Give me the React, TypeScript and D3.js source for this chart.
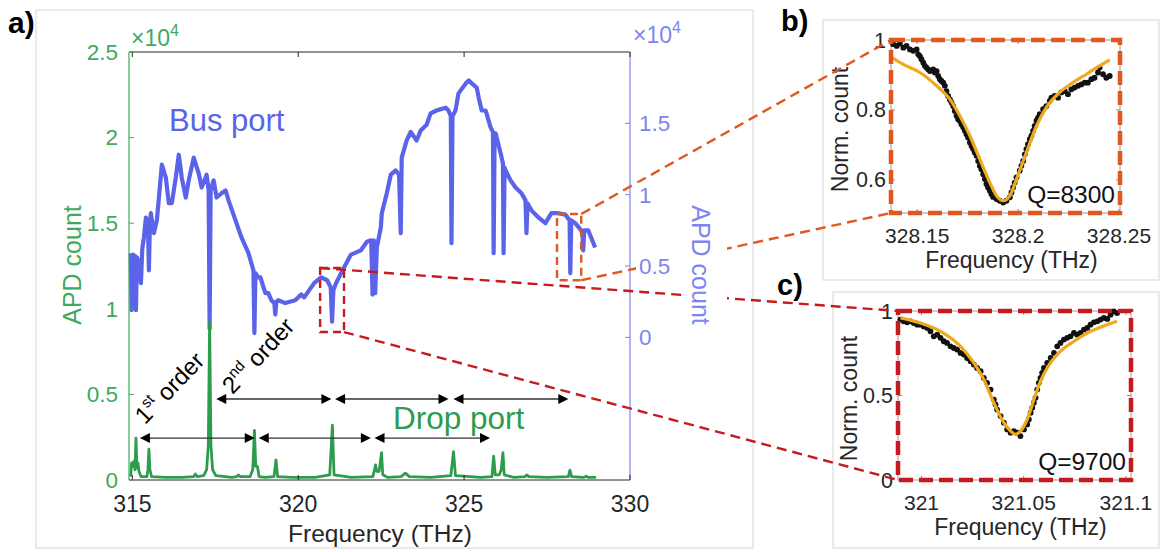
import React from "react";
import * as d3 from "d3";

type P = [number, number];

// ---------- Panel a data (frequency THz, counts x1e4) ----------
// Bus port (right axis units, x1e4)
const busPort: P[] = [
  [314.95, 0.59], [314.98, 0.19], [315.02, 0.58], [315.08, 0.57], [315.11, 0.19], [315.14, 0.56],
  [315.22, 0.50], [315.26, 0.38], [315.30, 0.62], [315.35, 0.70], [315.41, 0.84], [315.47, 0.80],
  [315.50, 0.47], [315.53, 0.80], [315.56, 0.87], [315.65, 0.73], [315.74, 0.82], [315.89, 1.21],
  [316.01, 1.12], [316.10, 0.94], [316.19, 0.94], [316.31, 1.12], [316.40, 1.28], [316.49, 1.12],
  [316.61, 0.98], [316.70, 1.10], [316.85, 1.26], [317.00, 1.15], [317.09, 1.05], [317.24, 1.14],
  [317.30, 1.03], [317.33, 0.06], [317.36, 1.03], [317.45, 1.10], [317.54, 0.98], [317.69, 1.01],
  [317.81, 1.03], [317.90, 0.96], [318.11, 0.82], [318.29, 0.70], [318.50, 0.59], [318.65, 0.47],
  [318.68, 0.03], [318.71, 0.45], [318.80, 0.42], [318.86, 0.42], [319.01, 0.31], [319.10, 0.31],
  [319.19, 0.26], [319.28, 0.24], [319.31, 0.16], [319.34, 0.25], [319.40, 0.26], [319.61, 0.24],
  [319.91, 0.26], [320.09, 0.30], [320.18, 0.28], [320.48, 0.38], [320.69, 0.42], [320.87, 0.40],
  [320.98, 0.35], [321.02, 0.11], [321.06, 0.33], [321.14, 0.38], [321.38, 0.49], [321.59, 0.58],
  [321.89, 0.61], [322.07, 0.67], [322.20, 0.68], [322.24, 0.30], [322.28, 0.68], [322.32, 0.31],
  [322.37, 0.63], [322.49, 0.77], [322.52, 0.87], [322.67, 1.01], [322.79, 1.14], [322.94, 1.17],
  [323.04, 1.14], [323.09, 0.73], [323.12, 1.26], [323.27, 1.38], [323.39, 1.44], [323.57, 1.38],
  [323.69, 1.45], [323.87, 1.49], [323.99, 1.57], [324.17, 1.59], [324.44, 1.61], [324.53, 1.59],
  [324.60, 1.55], [324.62, 0.66], [324.65, 1.55], [324.74, 1.59], [324.83, 1.71], [325.05, 1.78],
  [325.14, 1.80], [325.23, 1.78], [325.38, 1.75], [325.44, 1.68], [325.53, 1.59], [325.65, 1.59],
  [325.80, 1.47], [325.87, 1.44], [325.89, 0.59], [325.92, 1.43], [325.95, 1.43], [326.10, 1.29],
  [326.17, 1.22], [326.19, 0.59], [326.22, 1.19], [326.25, 1.17], [326.40, 1.10], [326.55, 1.05],
  [326.73, 1.01], [326.85, 0.96], [326.88, 0.73], [326.91, 0.94], [327.03, 0.89], [327.24, 0.84],
  [327.45, 0.80], [327.63, 0.87], [327.84, 0.87], [328.05, 0.86], [328.18, 0.82], [328.20, 0.45],
  [328.23, 0.82], [328.35, 0.80], [328.53, 0.75], [328.57, 0.72], [328.59, 0.61], [328.62, 0.75],
  [328.74, 0.75], [328.95, 0.63],
];

// Drop port (left axis units, x1e4)
const dropPort: P[] = [
  [314.95, 0.02], [314.98, 0.10], [315.02, 0.08], [315.05, 0.11], [315.08, 0.06], [315.11, 0.245],
  [315.14, 0.07], [315.17, 0.10], [315.20, 0.05], [315.26, 0.02], [315.44, 0.02], [315.47, 0.06],
  [315.50, 0.18], [315.53, 0.06], [315.58, 0.02], [316.00, 0.015], [316.50, 0.015], [316.85, 0.02],
  [316.90, 0.035], [316.95, 0.02], [317.15, 0.025], [317.24, 0.06], [317.29, 0.2], [317.33, 0.92],
  [317.37, 0.2], [317.42, 0.06], [317.52, 0.025], [318.0, 0.015], [318.15, 0.02], [318.20, 0.03],
  [318.25, 0.02], [318.55, 0.02], [318.63, 0.06], [318.68, 0.29], [318.72, 0.08], [318.77, 0.08],
  [318.82, 0.02], [319.0, 0.015], [319.27, 0.02], [319.33, 0.117], [319.38, 0.02], [319.8, 0.015],
  [320.5, 0.015], [320.95, 0.03], [321.03, 0.32], [321.08, 0.03], [321.6, 0.015], [322.25, 0.02],
  [322.30, 0.06], [322.33, 0.088], [322.37, 0.05], [322.44, 0.05], [322.51, 0.16], [322.55, 0.03],
  [322.7, 0.015], [323.1, 0.02], [323.23, 0.04], [323.35, 0.02], [324.0, 0.015], [324.6, 0.025],
  [324.68, 0.165], [324.74, 0.025], [325.5, 0.015], [325.84, 0.02], [325.89, 0.14], [325.94, 0.03],
  [326.06, 0.03], [326.12, 0.06], [326.17, 0.16], [326.21, 0.03], [326.5, 0.015], [326.84, 0.02],
  [326.89, 0.03], [326.95, 0.02], [327.5, 0.015], [328.14, 0.02], [328.19, 0.058], [328.24, 0.02],
  [328.6, 0.015], [328.68, 0.022], [328.75, 0.015], [328.98, 0.015],
];

// FSR arrows (frequency pairs) and their heights (left axis units)
const fsrFirstOrder: P[] = [[315.23, 318.69], [318.81, 322.19], [322.30, 325.78]];
const fsrSecondOrder: P[] = [[317.53, 321.0], [321.11, 324.53], [324.68, 328.14]];
const fsrLevels = [0.245, 0.473];

const xTicksA = [315, 320, 325, 330];
const yTicksLeft = [0, 0.5, 1, 1.5, 2, 2.5];
const yTicksRight = [0, 0.5, 1, 1.5];

// Zoom boxes in panel a (freq range, right-axis value range)
const zoomBoxB = { f: [327.8, 328.53], v: [0.4, 0.864] };
const zoomBoxC = { f: [320.66, 321.38], v: [0.037, 0.486] };

// ---------- Panel b data ----------
const resBData: P[] = [
  [328.1381, 0.988], [328.1398, 0.983], [328.1414, 0.99], [328.1431, 0.978], [328.1447, 0.983],
  [328.1464, 0.973], [328.148, 0.969], [328.1497, 0.973], [328.1505, 0.959], [328.1513, 0.954],
  [328.1521, 0.945], [328.153, 0.935], [328.1538, 0.926], [328.1546, 0.921], [328.1554, 0.916],
  [328.1563, 0.911], [328.1579, 0.916], [328.1587, 0.907], [328.1596, 0.911], [328.1604, 0.897],
  [328.1612, 0.888], [328.162, 0.883], [328.1629, 0.878], [328.1637, 0.869], [328.1645, 0.854],
  [328.1653, 0.84], [328.1662, 0.83], [328.167, 0.821], [328.1678, 0.811], [328.1686, 0.797],
  [328.1695, 0.783], [328.1703, 0.773], [328.1711, 0.769], [328.1719, 0.759], [328.1728, 0.75],
  [328.1736, 0.74], [328.1744, 0.73], [328.1752, 0.721], [328.1761, 0.707], [328.1769, 0.697],
  [328.1777, 0.688], [328.1785, 0.678], [328.1794, 0.669], [328.1802, 0.654], [328.181, 0.64],
  [328.1818, 0.63], [328.1827, 0.616], [328.1835, 0.602], [328.1843, 0.588], [328.1851, 0.578],
  [328.186, 0.569], [328.1868, 0.559], [328.1876, 0.551], [328.1893, 0.545], [328.1909, 0.54],
  [328.1926, 0.535], [328.1942, 0.54], [328.1959, 0.55], [328.1967, 0.564], [328.1975, 0.578],
  [328.1983, 0.592], [328.1992, 0.607], [328.2008, 0.626], [328.2016, 0.64], [328.2025, 0.654],
  [328.2033, 0.673], [328.2041, 0.688], [328.2049, 0.702], [328.2058, 0.716], [328.2066, 0.726],
  [328.2074, 0.74], [328.2082, 0.754], [328.2091, 0.769], [328.2099, 0.778], [328.2107, 0.788],
  [328.2124, 0.802], [328.214, 0.811], [328.2157, 0.826], [328.2165, 0.835], [328.2181, 0.84],
  [328.2198, 0.835], [328.2214, 0.85], [328.2231, 0.854], [328.2247, 0.845], [328.2264, 0.859],
  [328.228, 0.864], [328.2297, 0.869], [328.2313, 0.873], [328.233, 0.878], [328.2346, 0.878],
  [328.2363, 0.888], [328.2379, 0.892], [328.2396, 0.907], [328.2404, 0.921], [328.2421, 0.902],
  [328.2437, 0.892], [328.2454, 0.897],
];
const resBFit: P[] = [
  [328.1373, 0.95], [328.1431, 0.93], [328.1513, 0.907], [328.1596, 0.869], [328.1662, 0.83],
  [328.1711, 0.783], [328.1761, 0.726], [328.181, 0.659], [328.186, 0.592], [328.1893, 0.554],
  [328.1926, 0.54], [328.1959, 0.554], [328.1992, 0.602], [328.2041, 0.678], [328.2091, 0.754],
  [328.214, 0.807], [328.2206, 0.85], [328.2272, 0.878], [328.2338, 0.902], [328.2404, 0.926],
  [328.2454, 0.943],
];
const xTicksB = [328.15, 328.2, 328.25];
const yTicksB = [0.6, 0.8, 1];

// ---------- Panel c data ----------
const resCData: P[] = [
  [320.9897, 0.949], [320.9913, 0.939], [320.993, 0.933], [320.9946, 0.939], [320.9962, 0.929],
  [320.9979, 0.919], [320.9995, 0.919], [321.0011, 0.909], [321.0028, 0.9], [321.0044, 0.88],
  [321.006, 0.85], [321.0077, 0.86], [321.0093, 0.841], [321.0109, 0.821], [321.0125, 0.811],
  [321.0142, 0.791], [321.0158, 0.781], [321.0174, 0.772], [321.0191, 0.752], [321.0207, 0.742],
  [321.0223, 0.722], [321.024, 0.703], [321.0256, 0.683], [321.0272, 0.663], [321.0289, 0.644],
  [321.0305, 0.604], [321.0321, 0.575], [321.0338, 0.535], [321.0354, 0.476], [321.0362, 0.447],
  [321.037, 0.417], [321.0387, 0.378], [321.0403, 0.339], [321.0419, 0.299], [321.0436, 0.28],
  [321.0452, 0.289], [321.0468, 0.28], [321.0484, 0.26], [321.0501, 0.299], [321.0517, 0.329],
  [321.0525, 0.358], [321.0534, 0.398], [321.0542, 0.427], [321.055, 0.457], [321.0558, 0.486],
  [321.0566, 0.535], [321.0574, 0.575], [321.0582, 0.604], [321.059, 0.634], [321.0599, 0.663],
  [321.0615, 0.693], [321.0632, 0.722], [321.0648, 0.752], [321.0664, 0.791], [321.068, 0.811],
  [321.0697, 0.831], [321.0713, 0.841], [321.0729, 0.85], [321.0746, 0.87], [321.0762, 0.86],
  [321.0778, 0.87], [321.0795, 0.89], [321.0811, 0.9], [321.0827, 0.919], [321.0843, 0.933],
  [321.086, 0.939], [321.0876, 0.949], [321.0892, 0.959], [321.0909, 0.953], [321.0925, 0.978],
  [321.0941, 0.998], [321.0957, 0.988],
];
const resCFit: P[] = [
  [320.9897, 0.959], [320.9995, 0.929], [321.0093, 0.88], [321.0191, 0.791], [321.0256, 0.693],
  [321.0305, 0.594], [321.0354, 0.457], [321.0403, 0.339], [321.0436, 0.289], [321.046, 0.27],
  [321.0484, 0.289], [321.0517, 0.358], [321.055, 0.476], [321.0582, 0.585], [321.0615, 0.663],
  [321.068, 0.762], [321.0746, 0.821], [321.0811, 0.87], [321.0876, 0.904], [321.0957, 0.939],
];
const xTicksC = [321, 321.05, 321.1];
const yTicksC = [0, 0.5, 1];

// ---------- styling ----------
const FONT = "'Liberation Sans', Arial, Helvetica, sans-serif";
const GREEN = "#2E9C4D";
const GREEN_AX = "#3DAA5C";
const BLUE = "#5A63EA";
const BLUE_AX = "#7D85F0";
const ORANGE = "#E0571F";
const RED = "#C51B1F";
const YELLOW = "#EDAA1C";
const DARK = "#262626";
const FRAME = "#DCDCDC";

function Inset(props: {
  xs: d3.ScaleLinear<number, number>;
  ys: d3.ScaleLinear<number, number>;
  data: P[];
  fit: P[];
  xTicks: number[];
  yTicks: number[];
  color: string;
  q: string;
  yTitleX: number;
}) {
  const { xs, ys, data, fit, xTicks, yTicks, color, q, yTitleX } = props;
  const [x0, x1] = xs.range();
  const [y1, y0] = ys.range(); // y1 bottom, y0 top
  const line = d3.line<P>().x((d) => xs(d[0])).y((d) => ys(d[1])).curve(d3.curveMonotoneX);
  return (
    <g fontFamily={FONT}>
      <rect x={x0} y={y0} width={x1 - x0} height={y1 - y0} fill="white" stroke="#9a9a9a" strokeWidth={1} />
      {xTicks.map((t) => (
        <g key={"xt" + t}>
          <line x1={xs(t)} x2={xs(t)} y1={y1} y2={y1 - 4} stroke="#888" />
          <line x1={xs(t)} x2={xs(t)} y1={y0} y2={y0 + 4} stroke="#888" />
          <text x={xs(t)} y={y1 + 30} textAnchor="middle" fontSize={21} fill={DARK}>
            {String(t)}
          </text>
        </g>
      ))}
      {yTicks.map((t) => (
        <g key={"yt" + t}>
          <line x1={x0} x2={x0 + 4} y1={ys(t)} y2={ys(t)} stroke="#888" />
          <line x1={x1} x2={x1 - 4} y1={ys(t)} y2={ys(t)} stroke="#888" />
          <text x={x0 - 5} y={ys(t)} dy="0.35em" textAnchor="end" fontSize={21.5} fill={DARK}>
            {String(t)}
          </text>
        </g>
      ))}
      {data.map((d, i) => (
        <circle key={"d" + i} cx={xs(d[0])} cy={ys(d[1])} r={2.9} fill="#111" />
      ))}
      <path d={line(fit) || ""} fill="none" stroke={YELLOW} strokeWidth={3.2} />
      <rect
        x={x0}
        y={y0}
        width={x1 - x0}
        height={y1 - y0}
        fill="none"
        stroke={color}
        strokeWidth={4.5}
        strokeDasharray="14 6"
      />
      <text x={x1 - 5} y={y1 - 10} textAnchor="end" fontSize={24.5} fill="#111">
        {q}
      </text>
      <text x={(x0 + x1) / 2 + 6} y={y1 + 55} textAnchor="middle" fontSize={23} fill={DARK}>
        Frequency (THz)
      </text>
      <text
        transform={`translate(${yTitleX},${(y0 + y1) / 2 + 3}) rotate(-90)`}
        textAnchor="middle"
        fontSize={23}
        fill={DARK}
      >
        Norm. count
      </text>
    </g>
  );
}

export default function App() {
  const W = 1162;
  const H = 552;

  const xA = d3.scaleLinear().domain([314.9, 330]).range([129, 630]);
  const yL = d3.scaleLinear().domain([0, 2.5]).range([480, 52]);
  const yR = d3.scaleLinear().domain([-1, 2]).range([480, 52]);
  const busLine = d3.line<P>().x((d) => xA(d[0])).y((d) => yR(d[1]));
  const dropLine = d3.line<P>().x((d) => xA(d[0])).y((d) => yL(d[1]));

  const xB = d3.scaleLinear().domain([328.137, 328.2505]).range([891, 1120]);
  const yB = d3.scaleLinear().domain([0.505, 1.0]).range([213, 40]);
  const xC = d3.scaleLinear().domain([320.9885, 321.1025]).range([898, 1131]);
  const yC = d3.scaleLinear().domain([0, 1]).range([480, 311]);

  const [ax0, ax1] = xA.range();
  const [ay1, ay0] = yL.range();

  // zoom box rects
  const bx0 = xA(zoomBoxB.f[0]), bx1 = xA(zoomBoxB.f[1]);
  const by0 = yR(zoomBoxB.v[1]), by1 = yR(zoomBoxB.v[0]);
  const cx0 = xA(zoomBoxC.f[0]), cx1 = xA(zoomBoxC.f[1]);
  const cy0 = yR(zoomBoxC.v[1]), cy1 = yR(zoomBoxC.v[0]);

  const arrow = (f0: number, f1: number, lvl: number, key: string) => {
    const x1 = xA(f0), x2 = xA(f1), y = yL(lvl);
    return (
      <g key={key}>
        <line x1={x1 + 6} x2={x2 - 6} y1={y} y2={y} stroke="#333" strokeWidth={1.3} />
        <polygon points={`${x1},${y} ${x1 + 10},${y - 5} ${x1 + 10},${y + 5}`} fill="#000" />
        <polygon points={`${x2},${y} ${x2 - 10},${y - 5} ${x2 - 10},${y + 5}`} fill="#000" />
      </g>
    );
  };

  return (
    <svg
      width={W}
      height={H}
      viewBox={`0 0 ${W} ${H}`}
      style={{ position: "absolute", left: 0, top: 0, background: "white" }}
      fontFamily={FONT}
    >
      <rect x={0} y={0} width={W} height={H} fill="white" />
      {/* panel frames */}
      <rect x={36} y={10} width={717} height={538} fill="none" stroke={FRAME} strokeWidth={1.2} />
      <rect x={823} y={20} width={336} height={260} fill="none" stroke={FRAME} strokeWidth={1.2} />
      <rect x={833} y={292} width={326} height={256} fill="none" stroke={FRAME} strokeWidth={1.2} />

      {/* panel labels */}
      <text x={8} y={33} fontSize={30} fontWeight="bold" fill="#000">a)</text>
      <text x={781} y={31} fontSize={29} fontWeight="bold" fill="#000">b)</text>
      <text x={777} y={295} fontSize={29} fontWeight="bold" fill="#000">c)</text>

      {/* insets */}
      <Inset xs={xB} ys={yB} data={resBData} fit={resBFit} xTicks={xTicksB} yTicks={yTicksB} color={ORANGE} q="Q=8300" yTitleX={848} />
      <Inset xs={xC} ys={yC} data={resCData} fit={resCFit} xTicks={xTicksC} yTicks={yTicksC} color={RED} q="Q=9700" yTitleX={857} />

      {/* panel a data */}
      <path d={busLine(busPort) || ""} fill="none" stroke={BLUE} strokeWidth={4.2} strokeLinejoin="round" />
      <path d={dropLine(dropPort) || ""} fill="none" stroke={GREEN} strokeWidth={2.8} strokeLinejoin="round" />

      {/* panel a axes */}
      <line x1={ax0} x2={ax1} y1={ay0} y2={ay0} stroke={DARK} strokeWidth={1} />
      <line x1={ax0} x2={ax1} y1={ay1} y2={ay1} stroke={DARK} strokeWidth={1} />
      <line x1={ax0} x2={ax0} y1={ay0} y2={ay1} stroke={GREEN_AX} strokeWidth={1.2} />
      <line x1={ax1} x2={ax1} y1={ay0} y2={ay1} stroke={BLUE_AX} strokeWidth={1.2} />
      {xTicksA.map((t) => (
        <g key={"xa" + t}>
          <line x1={xA(t)} x2={xA(t)} y1={ay1} y2={ay1 - 5} stroke={DARK} />
          <line x1={xA(t)} x2={xA(t)} y1={ay0} y2={ay0 + 5} stroke={DARK} />
          <text x={xA(t)} y={512} textAnchor="middle" fontSize={23} fill={DARK}>
            {t}
          </text>
        </g>
      ))}
      {yTicksLeft.map((t) => (
        <g key={"yl" + t}>
          <line x1={ax0} x2={ax0 + 5} y1={yL(t)} y2={yL(t)} stroke={GREEN_AX} />
          <text x={118} y={yL(t)} dy="0.35em" textAnchor="end" fontSize={22.5} fill={GREEN_AX}>
            {t}
          </text>
        </g>
      ))}
      <text x={131} y={46} fontSize={23} fill={GREEN_AX}>
        ×10<tspan fontSize={16} dy={-10}>4</tspan>
      </text>
      <text transform={`translate(81,265) rotate(-90)`} textAnchor="middle" fontSize={25} fill={GREEN_AX}>
        APD count
      </text>

      {/* FSR arrows */}
      {fsrFirstOrder.map((d, i) => arrow(d[0], d[1], fsrLevels[0], "a1" + i))}
      {fsrSecondOrder.map((d, i) => arrow(d[0], d[1], fsrLevels[1], "a2" + i))}
      <text transform={`translate(${xA(315.38)},${yL(0.32)}) rotate(-46)`} fontSize={24} fill="#000">
        1<tspan fontSize={15} dy={-10}>st</tspan>
        <tspan dy={10}> order</tspan>
      </text>
      <text transform={`translate(${xA(318.02)},${yL(0.495)}) rotate(-47)`} fontSize={24} fill="#000">
        2<tspan fontSize={15} dy={-10}>nd</tspan>
        <tspan dy={10}> order</tspan>
      </text>

      <text x={169} y={131} fontSize={31} fill={BLUE}>Bus port</text>
      <text x={393} y={429} fontSize={31.5} fill={GREEN}>Drop port</text>

      {/* zoom boxes & connectors */}
      <rect x={bx0} y={by0} width={bx1 - bx0} height={by1 - by0} fill="none" stroke={ORANGE} strokeWidth={2.4} strokeDasharray="8 5" />
      <rect x={cx0} y={cy0} width={cx1 - cx0} height={cy1 - cy0} fill="none" stroke={RED} strokeWidth={2.4} strokeDasharray="8 5" />
      <line x1={bx1} y1={by0} x2={xB.range()[0]} y2={yB.range()[1]} stroke={ORANGE} strokeWidth={2.4} strokeDasharray="10 6" />
      <line x1={bx1} y1={by1} x2={xB.range()[0]} y2={yB.range()[0]} stroke={ORANGE} strokeWidth={2.4} strokeDasharray="10 6" />
      <line x1={cx0} y1={cy0} x2={xC.range()[0]} y2={yC.range()[1]} stroke={RED} strokeWidth={2.4} strokeDasharray="10 6" />
      <line x1={cx1} y1={cy1} x2={xC.range()[0]} y2={yC.range()[0]} stroke={RED} strokeWidth={2.4} strokeDasharray="10 6" />

      {/* right axis labels (with white backing, drawn over connectors) */}
      {yTicksRight.map((t) => (
        <g key={"yr" + t}>
          <line x1={ax1} x2={ax1 - 5} y1={yR(t)} y2={yR(t)} stroke={BLUE_AX} />
          <rect x={636} y={yR(t) - 12} width={52} height={24} fill="white" />
          <text x={639} y={yR(t)} dy="0.35em" fontSize={22.5} fill={BLUE_AX}>
            {t}
          </text>
        </g>
      ))}
      <rect x={687} y={198} width={40} height={135} fill="white" />
      <text transform={`translate(692,265) rotate(90)`} textAnchor="middle" fontSize={25} fill={BLUE_AX}>
        APD count
      </text>
      <text x={633} y={43} fontSize={23} fill={BLUE_AX}>
        ×10<tspan fontSize={16} dy={-10}>4</tspan>
      </text>

      <text x={380} y={542} textAnchor="middle" fontSize={24.5} fill={DARK}>
        Frequency (THz)
      </text>
    </svg>
  );
}
